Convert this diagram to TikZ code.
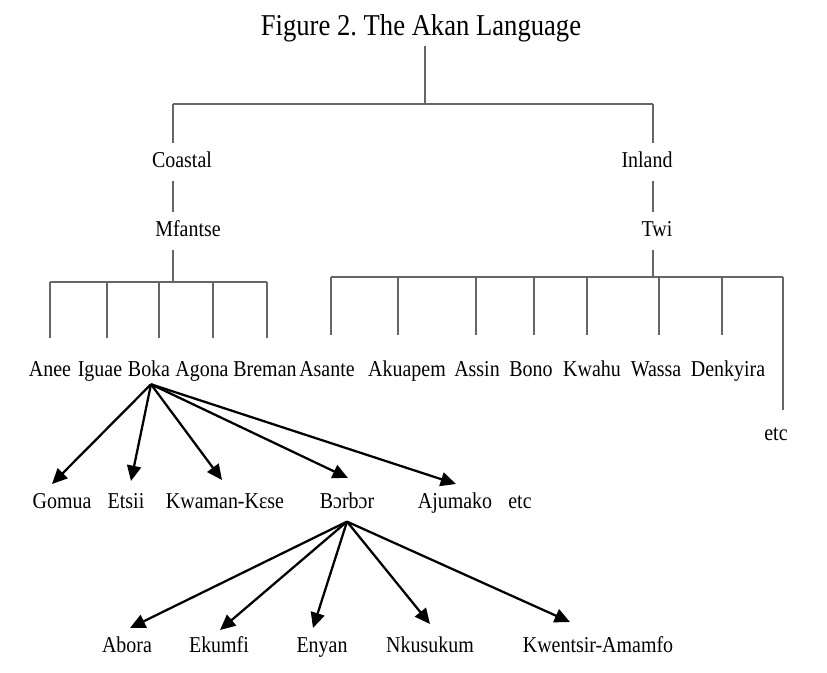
\documentclass[tikz,border=0pt]{standalone}
\usepackage{fontspec}
\setmainfont{Liberation Serif}[FakeStretch=0.88]
\usetikzlibrary{positioning}
\usetikzlibrary{arrows.meta}
\frenchspacing

\begin{document}
\begin{tikzpicture}[
        x=0.75pt, y=-0.75pt,
        >={Triangle[length=11.5pt,width=10.5pt]},
        lang/.style={font=\fontsize{17}{20}\selectfont, inner sep=0pt, anchor=base,
                     text height=11.5pt, text depth=4pt},
        group/.style={lang, inner ysep=6.5pt},
        tree/.style={draw=black!60, line width=0.8pt},
        branch/.style={->, line width=1.7pt}
    ]
    \useasboundingbox (0,0) rectangle (827,672);

        \node [lang, font=\fontsize{22.7}{26}\selectfont, text height=, text depth=] (title) at (421,35) {Figure 2. The Akan Language};

        \node [group] (coastal) at (182,167) {Coastal};
        \node [group] (inland) at (647,167) {Inland};
        \node [group] (mfantse) at (188,236) {Mfantse};
        \node [group] (twi) at (657,236) {Twi};

        % dialects
        \node [lang] (anee) at (50,376) {Anee};
        \node [lang] (iguae) at (100,376) {Iguae};
        \node [lang] (boka) at (149,376) {Boka};
        \node [lang] (agona) at (202,376) {Agona};
        \node [lang] (breman) at (265,376) {Breman};
        \node [lang] (asante) at (327,376) {Asante};
        \node [lang] (akuapem) at (407,376) {Akuapem};
        \node [lang] (assin) at (477,376) {Assin};
        \node [lang] (bono) at (531,376) {Bono};
        \node [lang] (kwahu) at (592,376) {Kwahu};
        \node [lang] (wassa) at (656,376) {Wassa};
        \node [lang] (denkyira) at (728,376) {Denkyira};
        \node [lang] (etcA) at (776,440) {etc};

        \node [lang] (gomua) at (62,508) {Gomua};
        \node [lang] (etsii) at (126,508) {Etsii};
        \node [lang] (kwaman) at (225,508) {Kwaman-Kɛse};
        \node [lang] (borbor) at (347,508) {Bɔrbɔr};
        \node [lang] (ajumako) at (455,508) {Ajumako};
        \node [lang] (etcB) at (520,508) {etc};

        \node [lang] (abora) at (127,652) {Abora};
        \node [lang] (ekumfi) at (219,652) {Ekumfi};
        \node [lang] (enyan) at (322,652) {Enyan};
        \node [lang] (nkusukum) at (430,652) {Nkusukum};
        \node [lang] (kwentsir) at (598,652) {Kwentsir-Amamfo};

        % tree
        \coordinate (root) at (425,104);
        \coordinate (coastJ) at (173,104);
        \coordinate (inlandJ) at (653,104);
        \draw [tree] ([yshift=-3pt]root |- title.south) -- (root);
        \draw [tree] (coastJ) -- (inlandJ);
        \draw [tree] (coastJ) -- (coastJ |- coastal.north);
        \draw [tree] (coastJ |- coastal.south) -- (coastJ |- mfantse.north);
        \draw [tree] (inlandJ) -- (inlandJ |- inland.north);
        \draw [tree] (inlandJ |- inland.south) -- (inlandJ |- twi.north);

        \foreach \n/\x in {anee/50, iguae/107, boka/159, agona/213, breman/267}
            \coordinate (j\n) at (\x,282);
        \foreach \n/\x in {asante/331, akuapem/398, assin/476, bono/534, kwahu/587, wassa/659, denkyira/722, etcA/783}
            \coordinate (j\n) at (\x,277);

        \draw [tree] (coastJ |- mfantse.south) -- (coastJ |- janee);
        \draw [tree] (janee) -- (jbreman);
        \draw [tree] (inlandJ |- twi.south) -- (inlandJ |- jasante);
        \draw [tree] (jasante) -- (jetcA);
        \foreach \n in {anee, iguae, boka, agona, breman}
            \draw [tree, shorten >=17pt] (j\n) -- (j\n |- \n.north);
        \foreach \n in {asante, akuapem, assin, bono, kwahu, wassa, denkyira}
            \draw [tree, shorten >=19pt] (j\n) -- (j\n |- \n.north);
        \draw [tree, shorten >=11pt] (jetcA) -- (jetcA |- etcA.north);

        % Boka and Borbor
        \coordinate (bokaOut) at ([xshift=1.5pt,yshift=-2pt]boka.south);
        \coordinate (borborOut) at ([yshift=-6pt]borbor.south);
        \coordinate (tgomua) at (52,484);
        \coordinate (tetsii) at (131,481);
        \coordinate (tkwaman) at (222,480);
        \coordinate (tborbor) at (348,478);
        \coordinate (tajumako) at (456,484);
        \coordinate (tabora) at (130,628);
        \coordinate (tekumfi) at (220,630);
        \coordinate (tenyan) at (313,628);
        \coordinate (tnkusukum) at (430,624);
        \coordinate (tkwentsir) at (570,622);

        \foreach \n in {gomua, etsii, kwaman, borbor, ajumako}
            \draw [branch] (bokaOut) -- (t\n);
        \foreach \n in {abora, ekumfi, enyan, nkusukum, kwentsir}
            \draw [branch] (borborOut) -- (t\n);

    \end{tikzpicture}
\end{document}
